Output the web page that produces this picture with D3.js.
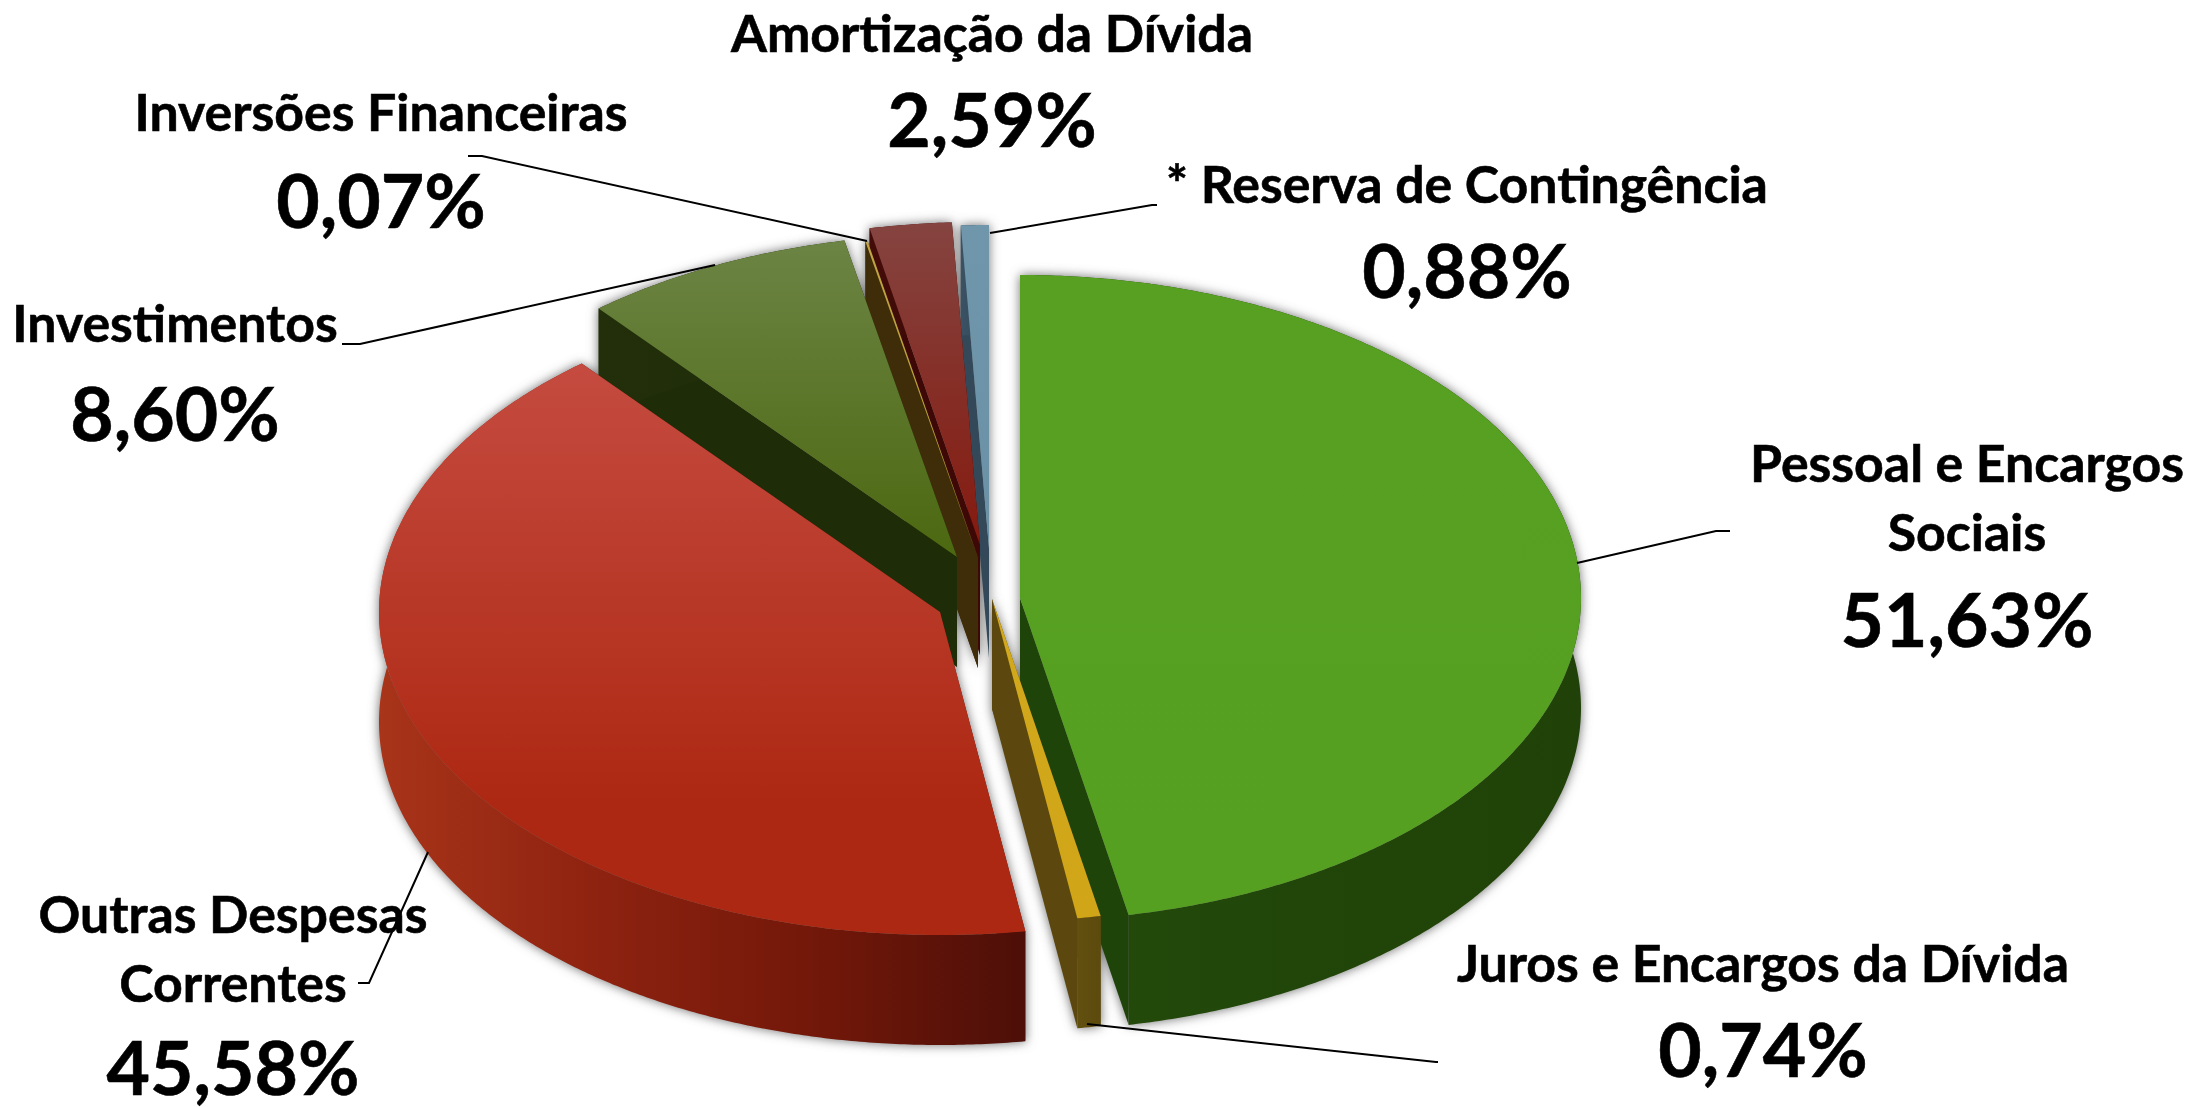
<!DOCTYPE html>
<html><head><meta charset="utf-8">
<script src="https://cdnjs.cloudflare.com/ajax/libs/d3/7.8.5/d3.min.js"></script>
<style>html,body{margin:0;background:#fff}svg{display:block}text{font-family:Lato,Carlito,"Open Sans",sans-serif;font-weight:700;fill:#000;stroke:#000;stroke-width:.6px}</style>
</head><body><svg id="c" width="2190" height="1107"></svg>
<script>
// ---- data (labels as printed; they total 110.09, the pie normalises them)
const categories = ["Pessoal e Encargos Sociais","Juros e Encargos da Dívida","Outras Despesas Correntes","Investimentos","Inversões Financeiras","Amortização da Dívida","* Reserva de Contingência"];
const values = [51.63,0.74,45.58,8.60,0.07,2.59,0.88];
const valueLabels = ["51,63%","0,74%","45,58%","8,60%","0,07%","2,59%","0,88%"];
const labelLines = [["Pessoal e Encargos","Sociais"],["Juros e Encargos da Dívida"],["Outras Despesas","Correntes"],["Investimentos"],["Inversões Financeiras"],["Amortização da Dívida"],["* Reserva de Contingência"]];

// ---- layout and style
const centre=[1000,560];
const explode=[[20,38],[-8,39],[-60,52],[-43,-3],[-22,-2],[-20,-15],[-11,-12]];
const rimA=561,rimB=323,depthAll=110;
const topStops=[["#57a022","#56a021"],["#d3a91d","#d0a518"],["#c54b40","#ad2812"],["#6c8444","#4c6810"],["#c2a445","#b89a30"],["#854440","#851a0f"],["#6f96ab","#6a91a6"]];
const wallStops=[["#234a0b","#204208"],["#62500f","#5c4a0e"],["#a83419","#4d0f08"],["#222f0a","#1e2c08"],["#402c0a","#3c2a08"],["#440c08","#3b0a06"],["#3a5263","#2f4757"]];
const cutFill=["#1f4409","#5c480f","#5a120a","#1e2c07","#3f2c09","#3d0806","#33495a"];
const orderBackToFront=[6,5,4,3,2,0,1];
const textFont=51.8,bigFont=75,lineGap=69;
const labelPos=[[1967,482,647],[1763,982,1077],[233,933,1095],[175,342,441],[381,131,228],[992,52,147],[1467,203,298]];
const leaders=[[[1577,563],[1716,531],[1730,531]],[[1087,1024],[1436,1062],[1438,1062]],[[428,852],[369,983],[358,983]],[[715,265],[360,344],[342,344]],[[867,241],[482,156],[468,156]],[[990,233],[1152,205],[1157,205]]];

const svg=d3.select("#c");
const defs=svg.append("defs");
defs.append("filter").attr("id","soft").attr("x","-20%").attr("y","-20%").attr("width","140%").attr("height","140%")
  .append("feGaussianBlur").attr("stdDeviation",5.5);

const arcs=d3.pie().value(d=>d).sort(null).startAngle(0).endAngle(2*Math.PI)(values);
const line=d3.line();

function geom(i){
  const d=arcs[i],ox=centre[0]+explode[i][0],oy=centre[1]+explode[i][1];
  const n=Math.max(2,Math.ceil((d.endAngle-d.startAngle)/0.008));
  const pts=d3.range(n+1).map(k=>{
    const a=d.startAngle+(d.endAngle-d.startAngle)*k/n;
    return {x:ox+rimA*Math.sin(a),y:oy-rimB*Math.cos(a)};
  });
  return {ox,oy,pts};
}
const topFace=g=>[[g.ox,g.oy],...g.pts.map(p=>[p.x,p.y])];
const wall=g=>[...g.pts.map(p=>[p.x,p.y]),...g.pts.slice().reverse().map(p=>[p.x,p.y+depthAll])];
const cut=(g,p)=>[[g.ox,g.oy],[p.x,p.y],[p.x,p.y+depthAll],[g.ox,g.oy+depthAll]];
const base=g=>[[g.ox,g.oy+depthAll],...g.pts.map(p=>[p.x,p.y+depthAll])];

// ground shadow
const sh=svg.append("g").attr("filter","url(#soft)").attr("fill","#6e6e6e");
orderBackToFront.forEach(i=>{
  const g=geom(i);
  sh.append("path").attr("d",line(base(g))+"Z");
  sh.append("path").attr("d",line(wall(g))+"Z");
  sh.append("path").attr("d",line(cut(g,g.pts[0]))+"Z");
  sh.append("path").attr("d",line(cut(g,g.pts[g.pts.length-1]))+"Z");
});

orderBackToFront.forEach(i=>{
  const g=geom(i);
  const ys=topFace(g).map(p=>p[1]),xs=g.pts.map(p=>p.x);
  const tg=defs.append("linearGradient").attr("id","t"+i).attr("gradientUnits","userSpaceOnUse")
    .attr("x1",0).attr("x2",0).attr("y1",d3.min(ys)).attr("y2",d3.max(ys)-(i===2?130:0));
  tg.append("stop").attr("offset",0).attr("stop-color",topStops[i][0]);
  tg.append("stop").attr("offset",1).attr("stop-color",topStops[i][1]);
  const wg=defs.append("linearGradient").attr("id","w"+i).attr("gradientUnits","userSpaceOnUse")
    .attr("y1",0).attr("y2",0).attr("x1",d3.min(xs)).attr("x2",d3.max(xs));
  wg.append("stop").attr("offset",0).attr("stop-color",wallStops[i][0]);
  if(i===2){wg.append("stop").attr("offset",.35).attr("stop-color","#8d2210");wg.append("stop").attr("offset",.7).attr("stop-color","#701709");}
  wg.append("stop").attr("offset",1).attr("stop-color",wallStops[i][1]);

  const s=svg.append("g").attr("class","slice").attr("data-name",categories[i]);
  s.append("path").attr("d",line(cut(g,g.pts[0]))+"Z").attr("fill",cutFill[i]);
  s.append("path").attr("d",line(cut(g,g.pts[g.pts.length-1]))+"Z").attr("fill",cutFill[i]);
  s.append("path").attr("d",line(wall(g))+"Z").attr("fill",`url(#w${i})`);
  s.append("path").attr("d",line(topFace(g))+"Z").attr("fill",`url(#t${i})`);
});

// category and value labels
const labels=svg.append("g").attr("text-anchor","middle");
labelLines.forEach((ls,i)=>{
  const [x,y,yv]=labelPos[i];
  ls.forEach((t,j)=>labels.append("text").attr("x",x).attr("y",y+j*lineGap).attr("font-size",textFont).text(t));
  labels.append("text").attr("x",x).attr("y",yv).attr("font-size",bigFont).text(valueLabels[i]);
});
// leader lines
svg.append("g").attr("fill","none").attr("stroke","#000").attr("stroke-width",2)
  .selectAll("path").data(leaders).join("path").attr("d",d=>line(d));
</script></body></html>
